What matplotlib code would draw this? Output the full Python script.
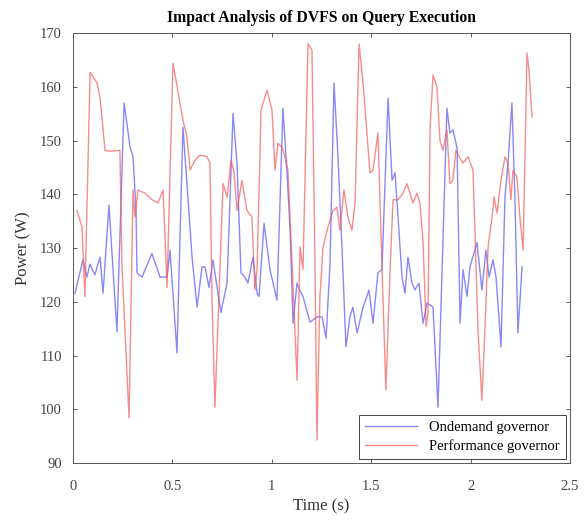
import matplotlib
matplotlib.use('Agg')
import matplotlib.pyplot as plt

plt.rcParams['font.family'] = ['Liberation Serif', 'DejaVu Serif']

# Ondemand governor
t_ondemand = [0.01, 0.05, 0.07, 0.085, 0.11, 0.136, 0.151, 0.181, 0.221, 0.257,
              0.287, 0.302, 0.317, 0.322, 0.347, 0.397, 0.438, 0.473, 0.488, 0.523,
              0.553, 0.578, 0.599, 0.624, 0.649, 0.664, 0.684, 0.704, 0.744, 0.775,
              0.805, 0.825, 0.845, 0.865, 0.880, 0.905, 0.926, 0.936, 0.961, 0.991,
              1.026, 1.056, 1.076, 1.092, 1.107, 1.127, 1.142, 1.157, 1.192, 1.227,
              1.253, 1.273, 1.293, 1.313, 1.333, 1.353, 1.373, 1.393, 1.408, 1.429,
              1.459, 1.489, 1.509, 1.534, 1.554, 1.585, 1.605, 1.620, 1.635, 1.655,
              1.670, 1.685, 1.705, 1.720, 1.740, 1.761, 1.781, 1.811, 1.836, 1.881,
              1.896, 1.911, 1.932, 1.947, 1.962, 1.982, 1.997, 2.032, 2.057, 2.077,
              2.093, 2.113, 2.128, 2.153, 2.173, 2.188, 2.208, 2.223, 2.238, 2.259]
p_ondemand = [121.6, 127.8, 124.6, 127.0, 125.0, 128.3, 121.6, 138.0, 114.4, 157.0,
              148.8, 147.0, 137.0, 125.4, 124.6, 129.0, 124.6, 124.6, 129.6, 110.5,
              152.5, 139.5, 128.3, 119.0, 126.5, 126.5, 122.7, 127.8, 118.0, 123.5,
              155.0, 145.8, 125.4, 124.6, 123.5, 128.3, 121.6, 121.0, 134.6, 126.0,
              120.3, 156.0, 144.5, 133.3, 116.0, 123.5, 122.0, 121.0, 116.2, 117.2,
              117.2, 113.2, 127.2, 160.7, 147.0, 130.2, 111.6, 117.2, 119.0, 114.2,
              119.0, 122.2, 116.0, 125.4, 126.0, 157.9, 142.6, 144.0, 135.8, 124.6,
              121.6, 128.3, 123.5, 122.2, 123.5, 116.0, 119.8, 119.0, 100.4, 156.0,
              151.4, 152.0, 148.6, 116.0, 126.0, 121.0, 126.5, 131.0, 122.2, 129.6,
              124.6, 127.8, 124.6, 111.6, 139.5, 145.8, 157.0, 139.5, 114.2, 126.5]

# Performance governor
t_perf = [0.02, 0.045, 0.06, 0.086, 0.121, 0.136, 0.161, 0.186, 0.236, 0.246,
          0.282, 0.302, 0.312, 0.327, 0.362, 0.397, 0.428, 0.453, 0.473, 0.503,
          0.553, 0.573, 0.589, 0.614, 0.639, 0.674, 0.689, 0.699, 0.714, 0.734,
          0.755, 0.775, 0.795, 0.810, 0.825, 0.850, 0.875, 0.900, 0.915, 0.926,
          0.946, 0.976, 1.001, 1.016, 1.031, 1.051, 1.066, 1.081, 1.102, 1.127,
          1.142, 1.157, 1.182, 1.202, 1.217, 1.227, 1.242, 1.258, 1.278, 1.293,
          1.308, 1.328, 1.343, 1.363, 1.383, 1.403, 1.419, 1.439, 1.459, 1.494,
          1.509, 1.534, 1.554, 1.574, 1.595, 1.610, 1.635, 1.660, 1.680, 1.695,
          1.710, 1.730, 1.745, 1.761, 1.776, 1.786, 1.796, 1.811, 1.831, 1.846,
          1.861, 1.881, 1.896, 1.911, 1.926, 1.942, 1.962, 1.987, 2.012, 2.022,
          2.037, 2.057, 2.072, 2.088, 2.108, 2.118, 2.133, 2.153, 2.173, 2.188,
          2.203, 2.213, 2.233, 2.248, 2.264, 2.284, 2.294, 2.309]
p_perf = [137.0, 134.0, 121.0, 162.7, 160.7, 158.0, 148.2, 148.0, 148.2, 127.0,
          98.4, 140.8, 135.8, 140.8, 140.2, 139.0, 138.4, 140.8, 122.7, 164.4,
          153.8, 150.7, 144.5, 146.4, 147.3, 147.0, 145.8, 121.0, 100.4, 121.0,
          142.0, 139.5, 146.4, 144.0, 137.0, 142.6, 137.0, 135.8, 122.2, 126.0,
          155.7, 159.4, 155.7, 144.5, 149.5, 148.8, 147.0, 144.5, 127.2, 105.4,
          130.2, 126.0, 168.0, 166.8, 128.3, 94.3, 121.0, 130.2, 133.3, 135.2,
          137.0, 137.6, 133.3, 140.8, 135.8, 133.3, 138.4, 168.0, 160.7, 144.0,
          144.5, 151.4, 127.0, 103.6, 126.0, 139.0, 139.0, 140.2, 142.0, 140.2,
          138.4, 140.2, 138.4, 131.0, 115.4, 118.0, 152.0, 162.2, 160.0, 150.0,
          148.2, 152.0, 142.0, 142.6, 148.2, 147.0, 145.8, 147.0, 144.5, 133.3,
          114.8, 101.7, 114.8, 130.2, 135.8, 139.5, 136.5, 142.6, 147.0, 145.8,
          139.0, 144.5, 143.3, 135.8, 129.6, 166.3, 163.0, 154.4]

fig = plt.figure(figsize=(5.84, 5.25), dpi=100)
ax = fig.add_axes([0.125, 0.118, 0.851, 0.819])

ax.plot(t_ondemand, p_ondemand, color='#6060f5', alpha=0.75, lw=1.0, label='Ondemand governor')
ax.plot(t_perf, p_perf, color='#f25c5c', alpha=0.7, lw=1.0, label='Performance governor')

ax.set_xlim(0, 2.5)
ax.set_ylim(90, 170)
ax.set_xticks([0, 0.5, 1, 1.5, 2, 2.5])
ax.set_xticklabels(['0', '0.5', '1', '1.5', '2', '2.5'])
ax.set_yticks(range(90, 171, 10))
ax.tick_params(direction='in', top=True, right=True, labelsize=10.5, length=3, width=0.6,
               colors='#444444')
ax.tick_params(axis='x', pad=12)
ax.tick_params(axis='y', pad=8)
for s in ax.spines.values():
    s.set_linewidth(0.7)
    s.set_color('#555555')

ax.set_xlabel('Time (s)', fontsize=12, color='#333333', labelpad=4)
ax.set_ylabel('Power (W)', fontsize=12, color='#333333', labelpad=6)
ax.set_title('Impact Analysis of DVFS on Query Execution', fontsize=11.3, fontweight='bold', pad=8)

leg = ax.legend(loc='lower right', fontsize=10.5, fancybox=False, framealpha=1,
                edgecolor='#444444', borderaxespad=0.3, handlelength=3.6,
                borderpad=0.4, labelspacing=0.35)
leg.get_frame().set_linewidth(0.7)

plt.savefig('out.png', dpi=100)
